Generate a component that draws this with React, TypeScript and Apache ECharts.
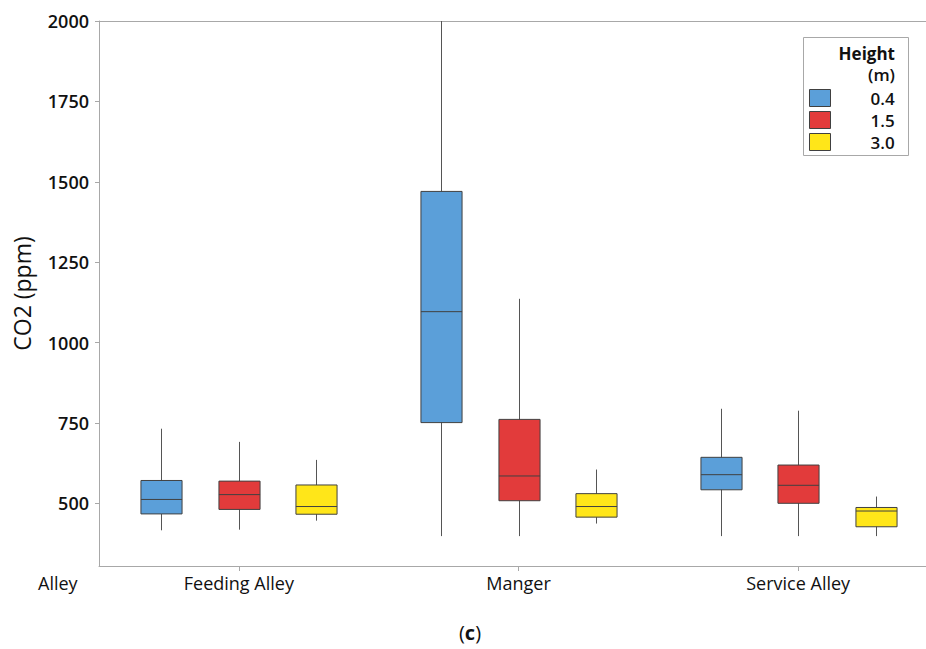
import { useEffect, useRef } from "react";
import * as echarts from "echarts";

// Categories on the x axis and the three sensor heights (legend)
const categories = ["Feeding Alley", "Manger", "Service Alley"];
const heights = ["0.4", "1.5", "3.0"];

// Box statistics per category: [min, Q1, median, Q3, max] (ppm)
const height04 = [
  [416, 467, 512, 571, 732],
  [398, 751, 1096, 1470, 2000],
  [398, 542, 589, 643, 794],
];
const height15 = [
  [418, 481, 527, 569, 691],
  [398, 508, 585, 761, 1136],
  [398, 500, 556, 619, 788],
];
const height30 = [
  [446, 466, 490, 557, 635],
  [437, 457, 490, 530, 605],
  [398, 427, 476, 487, 521],
];
const yTicks = [500, 750, 1000, 1250, 1500, 1750, 2000];

const colors = ["#5B9FD9", "#E23B3B", "#FFE619"];
const FONT = "'Open Sans', 'Noto Sans', sans-serif";
const AXIS_COLOR = "#a8a8a8";
const TEXT_COLOR = "#111111";

const seriesStats = [height04, height15, height30];
const offsets = [-0.277, 0, 0.277];
const halfBox = 0.0735;

function makeRenderItem(offsetFrac: number) {
  return (params: any, api: any) => {
    const cat = api.value(0);
    const band = api.size([1, 0])[0];
    const base = api.coord([cat, api.value(3)]);
    const cx = Math.round(base[0] + offsetFrac * band) + 0.5;
    const y = (d: number) => api.coord([cat, api.value(d)])[1];
    const yMin = y(1);
    const yQ1 = y(2);
    const yMed = y(3);
    const yQ3 = y(4);
    const yMax = y(5);
    const hw = band * halfBox;
    const st = api.style();
    return {
      type: "group",
      children: [
        {
          type: "line",
          shape: { x1: cx, y1: yMax, x2: cx, y2: yMin },
          style: { stroke: "#555555", lineWidth: 1 },
        },
        {
          type: "rect",
          shape: { x: cx - hw, y: yQ3, width: 2 * hw, height: yQ1 - yQ3 },
          style: { fill: st.fill, stroke: "#404040", lineWidth: 1 },
        },
        {
          type: "line",
          shape: { x1: cx - hw, y1: yMed, x2: cx + hw, y2: yMed },
          style: { stroke: "#404040", lineWidth: 1 },
        },
      ],
    };
  };
}

export default function App() {
  const ref = useRef<HTMLDivElement>(null);

  useEffect(() => {
    if (!ref.current) return;
    const chart = echarts.init(ref.current, undefined, { renderer: "svg" });

    const series = heights.map((h, i) => ({
      type: "custom",
      name: h,
      renderItem: makeRenderItem(offsets[i]),
      itemStyle: { color: colors[i], borderColor: "#404040", borderWidth: 1 },
      encode: { x: 0, y: [1, 2, 3, 4, 5] },
      clip: false,
      data: seriesStats[i].map((s, ci) => [ci, ...s]),
      z: 2,
    }));

    chart.setOption({
      animation: false,
      backgroundColor: "#ffffff",
      textStyle: { fontFamily: FONT },
      grid: {
        left: 99,
        top: 21,
        width: 839,
        bottom: 83,
        outerBoundsMode: "none",
        containLabel: false,
        show: false,
      },
      xAxis: {
        type: "category",
        data: categories,
        axisLine: { show: true, lineStyle: { color: AXIS_COLOR } },
        axisTick: { show: true, alignWithLabel: true, length: 5, lineStyle: { color: AXIS_COLOR } },
        axisLabel: { fontSize: 18, fontWeight: 500, color: TEXT_COLOR, margin: 8, fontFamily: FONT },
        splitLine: { show: false },
      },
      yAxis: {
        type: "value",
        min: 305,
        max: 2000,
        name: "CO2 (ppm)",
        nameLocation: "middle",
        nameGap: 66,
        nameTextStyle: { fontSize: 23, fontWeight: 500, color: TEXT_COLOR, fontFamily: FONT },
        axisLine: { show: true, lineStyle: { color: AXIS_COLOR } },
        axisTick: { show: true, length: 4, customValues: yTicks, lineStyle: { color: AXIS_COLOR } },
        axisLabel: {
          customValues: yTicks,
          formatter: (v: number) => String(v),
          fontSize: 18,
          fontWeight: 600,
          color: TEXT_COLOR,
          margin: 10,
          fontFamily: FONT,
        },
        splitLine: { show: false },
      },
      legend: {
        data: heights,
        orient: "vertical",
        left: 809,
        top: 89,
        padding: 0,
        itemWidth: 21,
        itemHeight: 17,
        itemGap: 4,
        icon: "rect",
        selectedMode: false,
        itemStyle: { borderColor: "#404040", borderWidth: 1 },
        textStyle: {
          fontSize: 17,
          fontWeight: 600,
          color: TEXT_COLOR,
          fontFamily: FONT,
          padding: [0, 0, 0, 35],
        },
      },
      graphic: [
        {
          type: "line",
          shape: { x1: 99, y1: 21.5, x2: 960, y2: 21.5 },
          style: { stroke: AXIS_COLOR, lineWidth: 1 },
          z: 0,
        },
        {
          type: "rect",
          shape: { x: 803.5, y: 37.5, width: 105, height: 118 },
          style: { fill: "#ffffff", stroke: AXIS_COLOR, lineWidth: 1 },
          z: 0,
        },
        {
          type: "text",
          x: 895,
          y: 53,
          style: {
            text: "Height",
            fill: TEXT_COLOR,
            font: `bold 17px ${FONT}`,
            align: "right",
            verticalAlign: "middle",
          },
        },
        {
          type: "text",
          x: 895,
          y: 74,
          style: {
            text: "(m)",
            fill: TEXT_COLOR,
            font: `600 17px ${FONT}`,
            align: "right",
            verticalAlign: "middle",
          },
        },
        {
          type: "text",
          x: 38,
          y: 583,
          style: {
            text: "Alley",
            fill: TEXT_COLOR,
            font: `500 18px ${FONT}`,
            align: "left",
            verticalAlign: "middle",
          },
        },
        {
          type: "text",
          x: 470,
          y: 632,
          style: {
            text: "({b|c})",
            fill: TEXT_COLOR,
            font: `20px ${FONT}`,
            align: "center",
            verticalAlign: "middle",
            rich: { b: { fontWeight: "bold", fontSize: 20, fontFamily: FONT, fill: TEXT_COLOR } },
          },
        },
      ],
      series,
    });

    return () => chart.dispose();
  }, []);

  return (
    <div
      style={{
        position: "absolute",
        left: 0,
        top: 0,
        width: 926,
        height: 649,
        overflow: "hidden",
        background: "#fff",
      }}
    >
      <div ref={ref} style={{ width: 960, height: 649 }} />
    </div>
  );
}
